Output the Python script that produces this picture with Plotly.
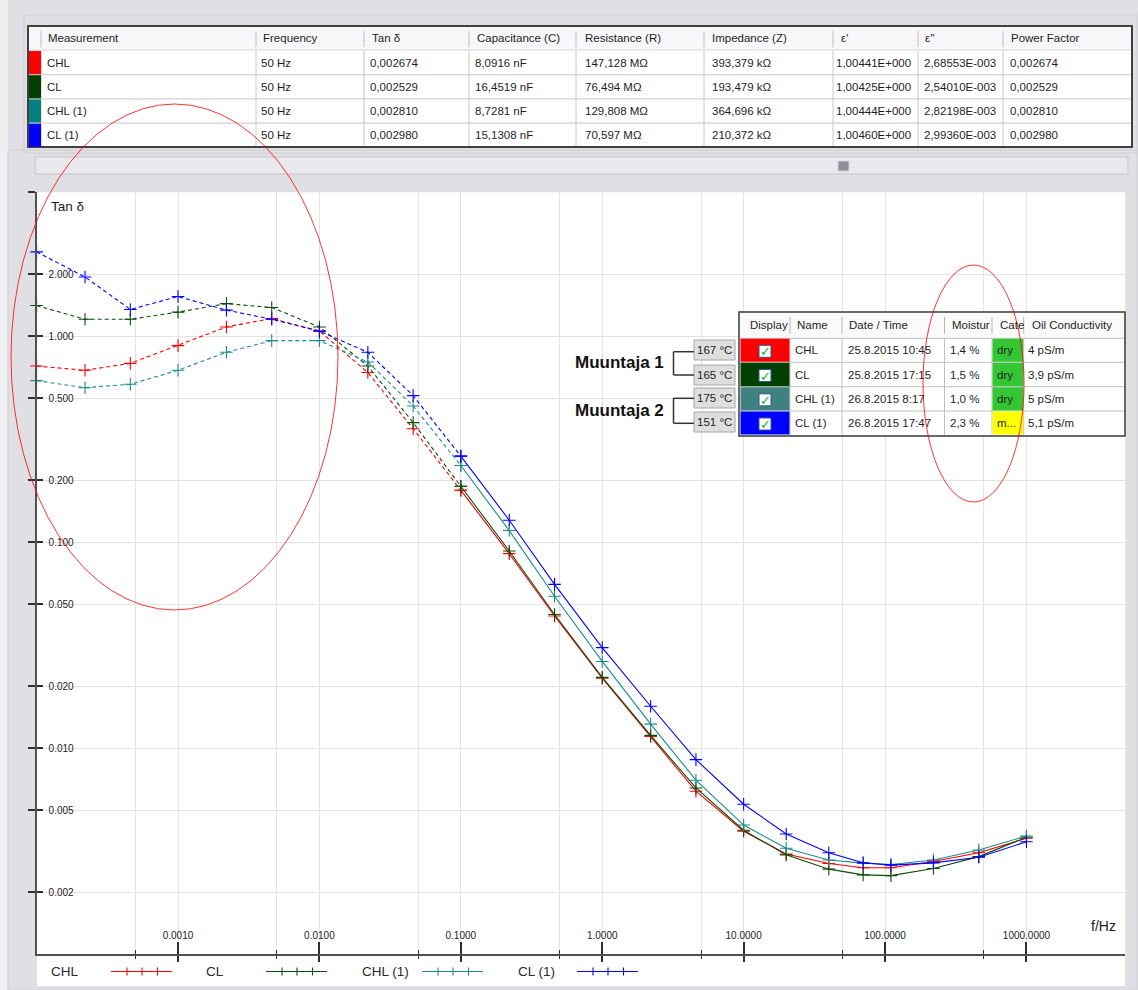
import numpy as np
import plotly.graph_objects as go

W, H = 1138, 990
FONT = "Liberation Sans, Arial, sans-serif"
TEXT = "#1e1e1e"

# ---------------------------------------------------------------- data ----
freq_hz = [0.0001, 0.00022, 0.00046, 0.001, 0.0022, 0.0046, 0.01, 0.022, 0.046,
           0.1, 0.22, 0.46, 1, 2.2, 4.6, 10, 20, 40, 70, 110, 220, 460, 1000]

tan_chl = [0.717, 0.684, 0.739, 0.901, 1.11, 1.22, 1.06, 0.667, 0.356,
           0.179, 0.0881, 0.0439, 0.0219, 0.0114, 0.00619, 0.00396, 0.00307,
           0.00276, 0.00263, 0.00263, 0.00282, 0.00311, 0.00366]
tan_cl = [1.41, 1.21, 1.21, 1.31, 1.44, 1.38, 1.11, 0.717, 0.381,
          0.187, 0.0907, 0.0446, 0.0221, 0.01156, 0.00642, 0.00400, 0.00304,
          0.00259, 0.00243, 0.00241, 0.00261, 0.00298, 0.00370]
tan_chl1 = [0.609, 0.563, 0.585, 0.684, 0.836, 0.953, 0.953, 0.750, 0.459,
            0.236, 0.114, 0.0547, 0.0264, 0.0131, 0.00700, 0.00424, 0.00327,
            0.00287, 0.00277, 0.00273, 0.00287, 0.00321, 0.00375]
tan_cl1 = [2.57, 1.94, 1.35, 1.56, 1.34, 1.21, 1.06, 0.836, 0.515,
           0.262, 0.128, 0.0625, 0.0308, 0.0160, 0.00881, 0.00535, 0.00384,
           0.00311, 0.00278, 0.00271, 0.00278, 0.00296, 0.00352]

series_names = ["CHL", "CL", "CHL (1)", "CL (1)"]
series_values = [tan_chl, tan_cl, tan_chl1, tan_cl1]
series_colors = ["#ff0000", "#0b4d0b", "#1b8b8b", "#0000ff"]

PDC_LIMIT_HZ = 0.1      # values below this come from the time-domain part (dashed)
MEAS_FREQ_HZ = 50       # frequency of the single-point results in the table

x_tick_vals = [0.001, 0.01, 0.1, 1, 10, 100, 1000]
x_minor_vals = [0.0005, 0.005, 0.05, 0.5, 5, 50, 500]
y_tick_vals = [0.002, 0.005, 0.01, 0.02, 0.05, 0.1, 0.2, 0.5, 1, 2]

# results table (50 Hz)
table_headers = ["Measurement", "Frequency", "Tan δ", "Capacitance (C)",
                 "Resistance (R)", "Impedance (Z)", "ε'", "ε''", "Power Factor"]
meas_frequency = ["50 Hz", "50 Hz", "50 Hz", "50 Hz"]
meas_tan = ["0,002674", "0,002529", "0,002810", "0,002980"]
meas_cap = ["8,0916 nF", "16,4519 nF", "8,7281 nF", "15,1308 nF"]
meas_res = ["147,128 MΩ", "76,494 MΩ", "129,808 MΩ", "70,597 MΩ"]
meas_imp = ["393,379 kΩ", "193,479 kΩ", "364,696 kΩ", "210,372 kΩ"]
meas_eps1 = ["1,00441E+000", "1,00425E+000", "1,00444E+000", "1,00460E+000"]
meas_eps2 = ["2,68553E-003", "2,54010E-003", "2,82198E-003", "2,99360E-003"]
meas_pf = ["0,002674", "0,002529", "0,002810", "0,002980"]
table_swatches = ["#ff0000", "#003f00", "#008080", "#0000ff"]

# measurement info table
info_headers = ["Display", "Name", "Date / Time", "Moistur", "Cate", "Oil Conductivity"]
info_dates = ["25.8.2015 10:45", "25.8.2015 17:15", "26.8.2015 8:17", "26.8.2015 17:47"]
info_moisture = ["1,4 %", "1,5 %", "1,0 %", "2,3 %"]
info_category = ["dry", "dry", "dry", "m..."]
info_category_fill = ["#33c833", "#33c833", "#33c833", "#ffff00"]
info_conductivity = ["4 pS/m", "3,9 pS/m", "5 pS/m", "5,1 pS/m"]
info_temperature = ["167 °C", "165 °C", "175 °C", "151 °C"]
info_swatches = ["#ff0000", "#004000", "#408080", "#0000ff"]
group_labels = ["Muuntaja 1", "Muuntaja 2"]


# ------------------------------------------------------------- helpers ----
def px(x):
    return x / W


def py(y):
    return 1 - y / H


shapes = []
annotations = []


def rect(x0, y0, x1, y1, fill=None, line=None, lw=1, layer="above", kind="rect"):
    shapes.append(dict(type=kind, xref="paper", yref="paper",
                       x0=px(x0), x1=px(x1), y0=py(y1), y1=py(y0),
                       fillcolor=fill or "rgba(0,0,0,0)",
                       line=dict(color=line or "rgba(0,0,0,0)", width=lw if line else 0),
                       layer=layer))


def seg(x0, y0, x1, y1, color, lw=1, dash=None, layer="above"):
    shapes.append(dict(type="line", xref="paper", yref="paper",
                       x0=px(x0), x1=px(x1), y0=py(y0), y1=py(y1),
                       line=dict(color=color, width=lw, dash=dash), layer=layer))


def label(x, y, s, size=11.5, color=TEXT, anchor="left", bold=False, family=FONT):
    annotations.append(dict(x=px(x), y=py(y), xref="paper", yref="paper",
                            text=f"<b>{s}</b>" if bold else s, showarrow=False,
                            xanchor=anchor, yanchor="middle", borderpad=0,
                            font=dict(family=family, size=size, color=color)))


# ------------------------------------------------------ window chrome ----
rect(0, 0, 8, H, fill="#efeff1")
rect(24, 15, 1137, 153, line="#cfcfd4")
rect(8, 150, 1137, H, line="#cfcfd4")

# results table
rect(28, 26, 1132, 147, fill="#ffffff", line="#404040", lw=2)
rect(29, 27, 1131, 50, fill="#f7f7fa")
seg(29, 50, 1131, 50, "#d6d6dc")
col_edges = [41, 256, 364, 469, 576, 704, 833, 918, 1003]
row_edges = [50.5, 74.7, 98.9, 123.1, 147.3]
for ce in col_edges:
    seg(ce, 31, ce, 47, "#bdbdc2")
    seg(ce, 50.5, ce, 146, "#c8c8c8")
for re_ in row_edges[1:-1]:
    seg(29, re_, 1131, re_, "#c8c8c8")
for i, c in enumerate(table_swatches):
    rect(29, row_edges[i] + 0.5, 41, row_edges[i + 1] - 0.5, fill=c)

head_x = [47, 262, 371, 476, 584, 711, 840, 924, 1010]
cell_x = [46, 260, 369, 474, 584, 711, 835, 923, 1009]
for hx, h in zip(head_x, table_headers):
    label(hx, 38.5, h)
table_columns = [series_names, meas_frequency, meas_tan, meas_cap, meas_res,
                 meas_imp, meas_eps1, meas_eps2, meas_pf]
for cx, col in zip(cell_x, table_columns):
    for i, s in enumerate(col):
        label(cx, (row_edges[i] + row_edges[i + 1]) / 2, s)

# scrollbar
rect(35, 157, 1128, 174, fill="#e9e9ed", line="#c4c4c9")
rect(838, 161, 849, 171, fill="#8e8e98", line="#d2d2d8")

# white band under the plot that carries the legend
rect(37, 954, 1125, 986, fill="#ffffff", layer="below")

# blank strip in the plot where the 0.2 grid line is not drawn
rect(716, 477.5, 1124, 481.5, fill="#ffffff", layer="between")

# ------------------------------------------------ measurement info box ----
rect(739, 312, 1125, 436, fill="#ffffff", line="#3a3a3a", lw=1.5)
rect(740, 313, 1124, 338, fill="#fafafa")
seg(740, 338.3, 1124, 338.3, "#bdbdbd")
info_cols = [790, 842, 944.5, 992, 1023.7]
info_rows = [338.3, 362.3, 386.7, 411, 435]
for ce in info_cols:
    seg(ce, 317, ce, 334, "#b8b8b8")
    seg(ce, 338.3, ce, 435, "#c0c0c0")
for re_ in info_rows[1:-1]:
    seg(740, re_, 1124, re_, "#c0c0c0")
for hx, h in zip([748.5, 796, 848, 950.5, 998.5, 1030.5], info_headers):
    label(hx, 325.3, h)
for i in range(4):
    r0, r1 = info_rows[i], info_rows[i + 1]
    rc = (r0 + r1) / 2
    rect(740.5, r0 + 0.5, 789.5, r1 - 0.5, fill=info_swatches[i])
    rect(759, rc - 5, 771, rc + 7, fill="#ffffff", line="#2a5a8c")
    label(765.5, rc + 1.5, "<b>✓</b>", size=13, color="#22aa22", anchor="center",
          family="DejaVu Sans")
    rect(992.5, r0 + 0.5, 1023.2, r1 - 0.5, fill=info_category_fill[i])
    label(794, rc, series_names[i])
    label(846.5, rc, info_dates[i])
    label(949, rc, info_moisture[i])
    label(996, rc, info_category[i])
    label(1026.5, rc, info_conductivity[i])

# temperature tags and grouping brackets
temp_boxes = [(340, 360), (365, 385), (388, 408), (412, 432)]
for (t0, t1), t in zip(temp_boxes, info_temperature):
    rect(694, t0, 735, t1, fill="#dededf", line="#a8a8ac")
    label(714.5, (t0 + t1) / 2, t, anchor="center")
for (b0, b1), g, gy in zip([(351.7, 375), (398.3, 423.3)], group_labels, [362.3, 410]):
    seg(673.5, b0, 673.5, b1, "#333333", lw=1.5)
    seg(673.5, b0, 694, b0, "#333333", lw=1.5)
    seg(673.5, b1, 694, b1, "#333333", lw=1.5)
    label(665, gy, g, size=17, color="#111111", anchor="right", bold=True)

# -------------------------------------------------------------- legend ----
legend_text_x = [50, 205, 361, 517]
legend_line_x = [111, 266, 422, 577]
for name, color, tx, lx in zip(series_names, series_colors, legend_text_x, legend_line_x):
    label(tx, 971, name, size=13.5, color="#2a2a2a")
    seg(lx, 971.5, lx + 61, 971.5, color, lw=1.1)
    for off in (16, 31, 46.5):
        seg(lx + off, 967.5, lx + off, 975.5, color, lw=1.1)

# axis captions
label(50, 206, "Tan δ", size=13.5, color="#1a1a1a")
label(1090, 926, "f/Hz", size=14, color="#1a1a1a")

# hand-drawn highlight ellipses
rect(11, 104, 338, 610, line="rgba(255,0,0,0.8)", lw=1, kind="circle")
rect(923, 265, 1024, 502, line="rgba(255,0,0,0.8)", lw=1, kind="circle")

# marker frequency (50 Hz) cursor
shapes.append(dict(type="line", xref="x", yref="paper", x0=MEAS_FREQ_HZ, x1=MEAS_FREQ_HZ,
                   y0=py(954.3), y1=py(192.3), layer="between",
                   line=dict(color="#3f8c8c", width=1, dash="3px,3px")))

# ------------------------------------------------------------- traces ----
fig = go.Figure()
f = np.array(freq_hz)
for name, vals, color in zip(series_names, series_values, series_colors):
    v = np.array(vals)
    low = f <= PDC_LIMIT_HZ
    high = f >= PDC_LIMIT_HZ
    marker = dict(symbol="cross-thin", size=9, line=dict(color=color, width=1.1), color=color)
    fig.add_trace(go.Scatter(x=f[low], y=v[low], mode="lines+markers", name=name,
                             line=dict(color=color, width=1.1, dash="4px,3px"),
                             marker=marker, showlegend=False, cliponaxis=False))
    fig.add_trace(go.Scatter(x=f[high], y=v[high], mode="lines+markers", name=name,
                             line=dict(color=color, width=1.1),
                             marker=marker, showlegend=False, cliponaxis=False))

# empty traces that bring the overlay tick axes to life
fig.add_trace(go.Scatter(x=[], y=[], xaxis="x2", yaxis="y", showlegend=False))
fig.add_trace(go.Scatter(x=[], y=[], xaxis="x", yaxis="y2", showlegend=False))

x_dom = [36.6 / W, 1125.3 / W]
y_dom = [py(954.3), py(192.3)]
x_rng = [-4, np.log10(5000)]
y_rng = [-3, np.log10(5)]
grid = "#e3e3e3"
axis_col = "#505050"
tick_col = "#2e2e2e"
tickfont = dict(family=FONT, size=10, color="#222222")

fig.update_layout(
    width=W, height=H, autosize=False,
    margin=dict(l=0, r=0, t=0, b=0),
    paper_bgcolor="#e0e0e4", plot_bgcolor="#ffffff",
    showlegend=False,
    xaxis=dict(type="log", range=x_rng, domain=x_dom, anchor="y",
               showline=True, linecolor=axis_col, linewidth=2,
               ticks="outside", ticklen=6, tickwidth=1.5, tickcolor=tick_col,
               tickmode="array", tickvals=x_tick_vals, showticklabels=False,
               showgrid=True, gridcolor=grid, gridwidth=1, zeroline=False,
               minor=dict(tickmode="array", tickvals=x_minor_vals, ticks="outside",
                          ticklen=3, tickwidth=1, tickcolor=tick_col,
                          showgrid=True, gridcolor=grid, gridwidth=1)),
    xaxis2=dict(type="log", range=x_rng, domain=x_dom, anchor="y", overlaying="x",
                side="bottom", showline=False, showgrid=False, zeroline=False,
                ticks="inside", ticklen=12, tickwidth=1.5, tickcolor=tick_col,
                tickmode="array", tickvals=x_tick_vals,
                ticktext=[f"{v:.4f}" for v in x_tick_vals],
                ticklabelposition="inside", tickfont=tickfont,
                minor=dict(tickmode="array", tickvals=x_minor_vals, ticks="inside",
                           ticklen=4, tickwidth=1, tickcolor=tick_col, showgrid=False)),
    yaxis=dict(type="log", range=y_rng, domain=y_dom, anchor="x",
               showline=True, linecolor=axis_col, linewidth=2,
               ticks="outside", ticklen=7, tickwidth=1.5, tickcolor=tick_col,
               tickmode="array", tickvals=y_tick_vals + [5], showticklabels=False,
               showgrid=True, gridcolor=grid, gridwidth=1, zeroline=False),
    yaxis2=dict(type="log", range=y_rng, domain=y_dom, anchor="x", overlaying="y",
                side="left", showline=False, showgrid=False, zeroline=False,
                ticks="inside", ticklen=6, tickwidth=1.5, tickcolor=tick_col,
                tickmode="array", tickvals=y_tick_vals + [5],
                ticktext=[f"{v:.3f}" for v in y_tick_vals] + [""],
                ticklabelposition="inside", ticklabelstandoff=5, tickfont=tickfont),
    shapes=shapes,
    annotations=annotations,
)

fig.write_html("out.html")
